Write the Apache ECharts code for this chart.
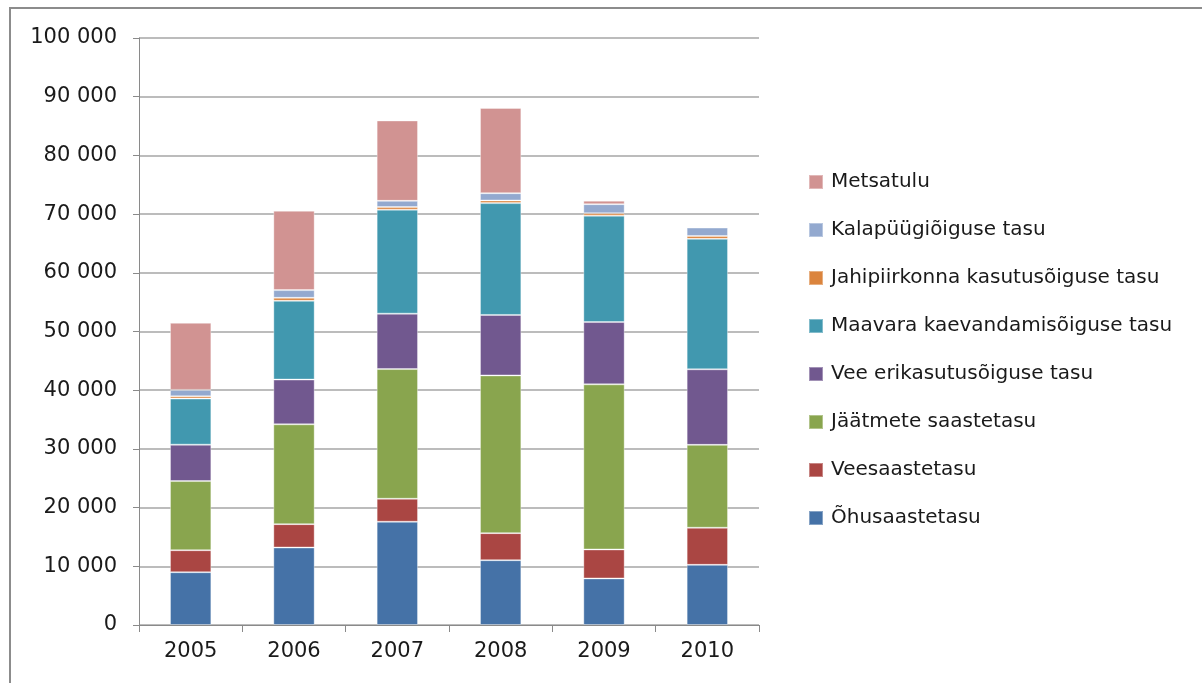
<!DOCTYPE html>
<html>
<head>
<meta charset="utf-8">
<script src="https://cdn.jsdelivr.net/npm/echarts@6/dist/echarts.min.js"></script>
<style>
  html, body { margin: 0; padding: 0; background: #fff; }
  #main { width: 1202px; height: 683px; }
</style>
</head>
<body>
<div id="main"></div>
<script>
var years = ['2005', '2006', '2007', '2008', '2009', '2010'];

// stacked from bottom to top
var ohusaastetasu   = [8990, 13200, 17590, 11040, 7930, 10250];
var veesaastetasu   = [3750, 3980, 3920, 4610, 4940, 6320];
var jaatmete        = [11780, 17010, 22090, 26870, 28130, 14120];
var veeErikasutus   = [6200, 7620, 9440, 10300, 10610, 12870];
var maavara         = [7850, 13420, 17720, 19050, 18120, 22230];
var jahipiirkond    = [390, 510, 450, 450, 410, 480];
var kalapuugi       = [1090, 1310, 1050, 1240, 1550, 1430];
var metsatulu       = [11430, 13520, 13690, 14530, 600, 180];

var seriesNames = ['Õhusaastetasu', 'Veesaastetasu', 'Jäätmete saastetasu', 'Vee erikasutusõiguse tasu',
  'Maavara kaevandamisõiguse tasu', 'Jahipiirkonna kasutusõiguse tasu', 'Kalapüügiõiguse tasu', 'Metsatulu'];
var seriesData = [ohusaastetasu, veesaastetasu, jaatmete, veeErikasutus, maavara, jahipiirkond, kalapuugi, metsatulu];
var colors = ['#4572A7', '#AA4643', '#89A54E', '#71588F', '#4198AF', '#DB843D', '#93A9CF', '#D19392'];

var yTicks = [0, 10000, 20000, 30000, 40000, 50000, 60000, 70000, 80000, 90000, 100000];

var font = '"DejaVu Sans", sans-serif';

var series = seriesNames.map(function (name, i) {
  return {
    name: name,
    type: 'bar',
    stack: 'total',
    barWidth: '40%',
    data: seriesData[i],
    itemStyle: { color: colors[i], borderColor: 'rgba(255,255,255,0.35)', borderWidth: 1 }
  };
});

var chart = echarts.init(document.getElementById('main'));
chart.setOption({
  backgroundColor: '#fff',
  animation: false,
  graphic: [{
    type: 'rect',
    shape: { x: 10, y: 8, width: 1220, height: 700 },
    style: { fill: 'none', stroke: '#8c8c8c', lineWidth: 2 },
    silent: true
  }],
  grid: { left: 139, right: 443, top: 38, bottom: 58 },
  legend: {
    orient: 'vertical',
    left: 803,
    top: 167,
    itemWidth: 14,
    itemHeight: 14,
    itemGap: 28,
    icon: 'rect',
    data: seriesNames.slice().reverse(),
    textStyle: { fontFamily: font, fontSize: 20, color: '#1a1a1a', padding: [0, 0, 0, 3] }
  },
  xAxis: {
    type: 'category',
    data: years,
    axisLine: { lineStyle: { color: '#8a8a8a', width: 1 } },
    axisTick: { show: true, length: 7, lineStyle: { color: '#8a8a8a' } },
    axisLabel: { fontFamily: font, fontSize: 21, color: '#1a1a1a', margin: 16 }
  },
  yAxis: {
    type: 'value',
    min: 0,
    max: 100000,
    interval: 10000,
    axisLine: { show: true, lineStyle: { color: '#8a8a8a', width: 1 } },
    axisTick: { show: true, inside: false, length: 6, lineStyle: { color: '#8a8a8a' } },
    splitLine: { lineStyle: { color: '#a6a6a6', width: 1.5 } },
    axisLabel: {
      fontFamily: font, fontSize: 21, color: '#1a1a1a', margin: 22,
      formatter: function (v) {
        if (yTicks.indexOf(v) < 0) return '';
        var s = String(v);
        return s.length > 3 ? s.slice(0, s.length - 3) + ' ' + s.slice(-3) : s;
      }
    }
  },
  series: series
});
</script>
</body>
</html>
